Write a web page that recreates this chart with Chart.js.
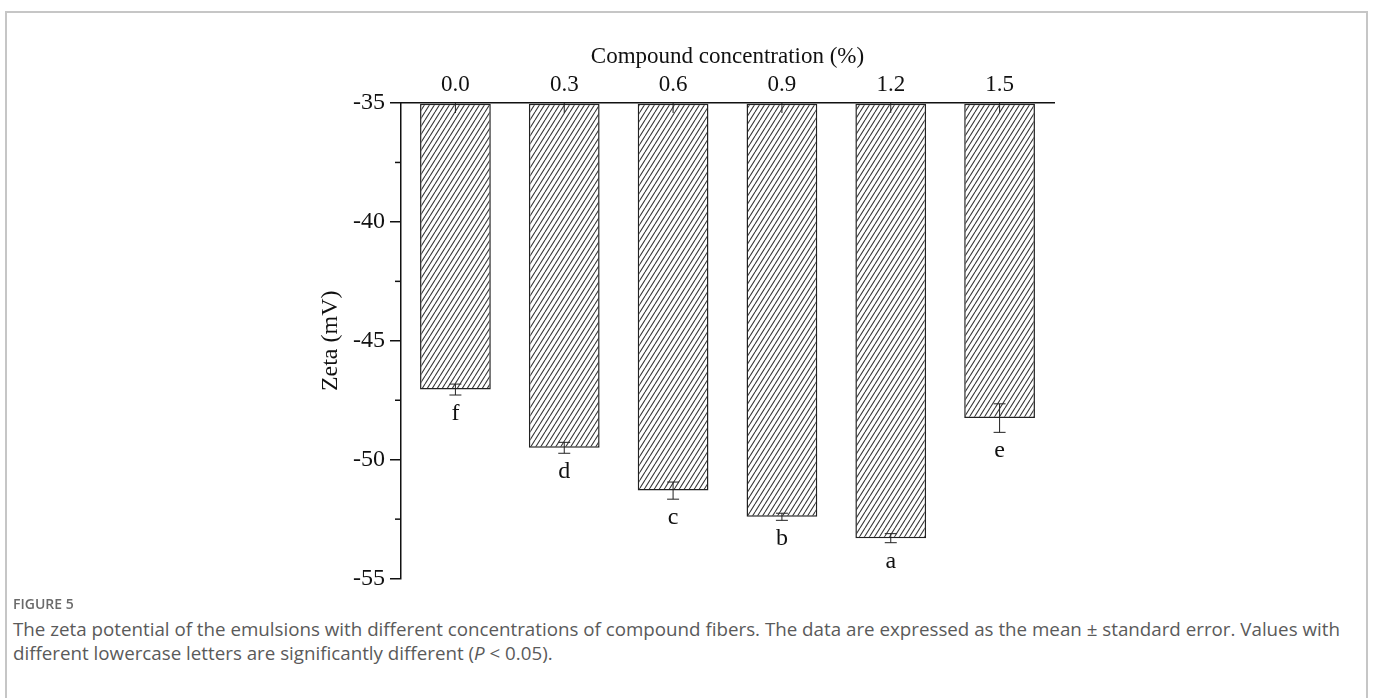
<!DOCTYPE html>
<html>
<head>
<meta charset="utf-8">
<script src="https://cdn.jsdelivr.net/npm/chart.js@4.4.1/dist/chart.umd.min.js"></script>
<style>
  body { margin: 0; background: #fff; width: 1373px; height: 698px; overflow: hidden; position: relative; }
  #frame { position: absolute; left: 5px; top: 11px; width: 1359px; height: 700px;
           border-left: 2px solid #c6c6c6; border-top: 2px solid #c6c6c6; border-right: 2px solid #c6c6c6; }
  #chart { position: absolute; left: 0; top: 0; }
  #figlabel { position: absolute; left: 13px; top: 594px; font-family: "Open Sans", sans-serif;
              font-weight: 600; font-size: 14px; color: #6a6a6a; }
  #caption { position: absolute; left: 13px; top: 617px; width: 1350px; font-family: "Open Sans", sans-serif;
             font-size: 18.75px; line-height: 24px; color: #5a5a5a; white-space: nowrap; }
</style>
</head>
<body>
<div id="frame"></div>
<canvas id="chart" width="1373" height="598"></canvas>
<div id="figlabel">FIGURE 5</div>
<div id="caption">The zeta potential of the emulsions with different concentrations of compound fibers. The data are expressed as the mean &plusmn; standard error. Values with<br>different lowercase letters are significantly different (<i>P</i> &lt; 0.05).</div>
<script>
const categories = ["0.0", "0.3", "0.6", "0.9", "1.2", "1.5"];
const zeta = [-47.05, -49.5, -51.3, -52.4, -53.3, -48.25];
const stdErr = [0.23, 0.23, 0.36, 0.15, 0.19, 0.6];
const letters = ["f", "d", "c", "b", "a", "e"];
const yTicks = [-55, -50, -45, -40, -35];
const yMinor = [-52.5, -47.5, -42.5, -37.5];

const serif = "'Liberation Serif', 'Times New Roman', serif";

function hatch() {
  const c = document.createElement("canvas");
  const w = 5, h = 8;
  c.width = w; c.height = h;
  const g = c.getContext("2d");
  g.fillStyle = "#fff";
  g.fillRect(0, 0, w, h);
  g.strokeStyle = "#333";
  g.lineWidth = 1.05;
  for (const dx of [-w, 0, w]) {
    g.beginPath();
    g.moveTo(dx, h);
    g.lineTo(dx + w, 0);
    g.stroke();
  }
  return g.createPattern(c, "repeat");
}

// error bars, letters and minor ticks
const extras = {
  id: "extras",
  afterDatasetsDraw(chart) {
    const ctx = chart.ctx;
    const y = chart.scales.y;
    const meta = chart.getDatasetMeta(0);
    ctx.save();
    ctx.strokeStyle = "#222";
    ctx.lineWidth = 1;
    meta.data.forEach((bar, i) => {
      const x = bar.x;
      const top = y.getPixelForValue(zeta[i] + stdErr[i]);
      const bot = y.getPixelForValue(zeta[i] - stdErr[i]);
      ctx.beginPath();
      ctx.moveTo(x, top); ctx.lineTo(x, bot);
      ctx.moveTo(x - 6, top); ctx.lineTo(x + 6, top);
      ctx.moveTo(x - 6, bot); ctx.lineTo(x + 6, bot);
      // short stub at the baseline
      const y0 = y.getPixelForValue(-35);
      ctx.moveTo(x, y0); ctx.lineTo(x, y0 + 10);
      ctx.stroke();
      ctx.fillStyle = "#111";
      ctx.font = "24px " + serif;
      ctx.textAlign = "center";
      ctx.textBaseline = "alphabetic";
      ctx.fillText(letters[i], x, bot + 25);
    });
    ctx.strokeStyle = "#111";
    ctx.lineWidth = 1.5;
    const ax = chart.chartArea.left;
    yMinor.forEach(v => {
      const py = y.getPixelForValue(v);
      ctx.beginPath();
      ctx.moveTo(ax - 6, py); ctx.lineTo(ax, py);
      ctx.stroke();
    });
    ctx.restore();
  }
};

new Chart(document.getElementById("chart").getContext("2d"), {
  type: "bar",
  data: {
    labels: categories,
    datasets: [{
      data: zeta,
      base: -35,
      backgroundColor: hatch(),
      borderColor: "#222",
      borderWidth: 1.5,
      borderSkipped: false,
      barPercentage: 0.65,
      categoryPercentage: 1.0
    }]
  },
  options: {
    responsive: false,
    animation: false,
    layout: { padding: { left: 312, right: 319, top: 39, bottom: 19 } },
    plugins: { legend: { display: false }, tooltip: { enabled: false } },
    scales: {
      x: {
        position: "top",
        grid: { display: false, drawTicks: false },
        border: { display: true, color: "#111", width: 1.5 },
        ticks: { color: "#111", font: { family: serif, size: 23 }, padding: 4 },
        title: { display: true, text: "Compound concentration (%)", color: "#111",
                 font: { family: serif, size: 23 }, padding: { top: 4, bottom: 4 } },
        afterFit(s) { s.height = 64; }
      },
      y: {
        min: -55,
        max: -35,
        afterBuildTicks(s) { s.ticks = yTicks.map(v => ({ value: v })); },
        grid: { drawOnChartArea: false, drawTicks: true, tickLength: 11, color: "#111", lineWidth: 1.5 },
        border: { display: true, color: "#111", width: 1.5 },
        ticks: { color: "#111", font: { family: serif, size: 24 }, padding: 5 },
        title: { display: true, text: "Zeta (mV)", color: "#111",
                 font: { family: serif, size: 24 }, padding: { top: 4, bottom: 4 } },
        afterFit(s) { s.width = 89; }
      }
    }
  },
  plugins: [extras]
});
</script>
</body>
</html>
